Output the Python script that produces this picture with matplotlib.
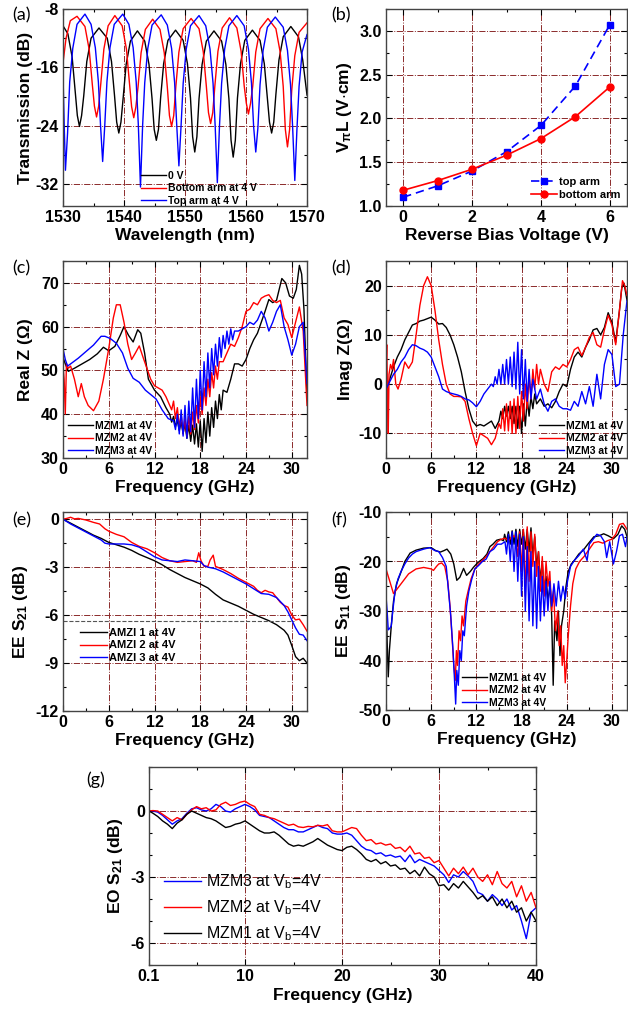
import numpy as np
import matplotlib
matplotlib.use("Agg")
import matplotlib.pyplot as plt
from matplotlib.ticker import MultipleLocator

# ---------------- (a) transmission spectra ----------------
wl_0v = [1530.0, 1530.8, 1531.5, 1532.0, 1532.35, 1532.7, 1533.05, 1533.4, 1533.9, 1534.6, 1535.9,
         1537.25, 1537.95, 1538.45, 1538.8, 1539.15, 1539.5, 1539.85, 1540.35, 1541.05, 1542.2,
         1543.4, 1544.1, 1544.6, 1544.95, 1545.3, 1545.65, 1546.0, 1546.5, 1547.2, 1548.45,
         1549.7, 1550.4, 1550.9, 1551.25, 1551.6, 1551.95, 1552.3, 1552.8, 1553.5, 1554.75,
         1556.0, 1556.7, 1557.2, 1557.55, 1557.9, 1558.25, 1558.6, 1559.1, 1559.8, 1561.05,
         1562.3, 1563.0, 1563.5, 1563.85, 1564.2, 1564.55, 1564.9, 1565.4, 1566.1, 1567.35,
         1568.6, 1569.3, 1570.0]
tr_0v = [-10.3, -11.4, -14.6, -19.3, -22.6, -24.1, -22.6, -19.9, -15.2, -12.0, -10.6,
         -12.0, -15.2, -19.9, -23.5, -25.0, -23.5, -20.3, -15.6, -12.4, -11.0,
         -12.4, -15.6, -20.3, -24.5, -26.0, -24.5, -20.2, -15.5, -12.3, -10.9,
         -12.3, -15.5, -20.2, -25.5, -27.6, -25.5, -20.3, -15.6, -12.4, -11.0,
         -12.4, -15.6, -20.3, -26.0, -28.3, -26.0, -20.2, -15.5, -12.3, -10.9,
         -12.3, -15.5, -20.2, -23.5, -25.0, -23.5, -19.7, -15.0, -11.8, -10.4,
         -11.8, -15.0, -19.8]

wl_bot = [1530.0, 1530.5, 1531.2, 1532.3,
          1533.6, 1534.3, 1534.8, 1535.15, 1535.5, 1535.85, 1536.2, 1536.7, 1537.4, 1538.5,
          1539.7, 1540.4, 1540.9, 1541.25, 1541.6, 1541.95, 1542.3, 1542.8, 1543.5, 1544.7,
          1545.9, 1546.6, 1547.1, 1547.45, 1547.8, 1548.15, 1548.5, 1549.0, 1549.7, 1551.0,
          1552.3, 1553.0, 1553.5, 1553.85, 1554.2, 1554.55, 1554.9, 1555.4, 1556.1, 1557.3,
          1558.5, 1559.2, 1559.7, 1560.05, 1560.4, 1560.75, 1561.1, 1561.6, 1562.3, 1563.6,
          1564.9, 1565.6, 1566.1, 1566.45, 1566.8, 1567.15, 1567.5, 1568.0, 1568.7, 1570.0]
tr_bot = [-15.4, -12.0, -9.6, -9.0,
          -10.4, -13.6, -18.3, -21.3, -22.8, -21.3, -18.2, -13.5, -10.3, -8.9,
          -10.3, -13.5, -18.2, -21.4, -22.9, -21.4, -18.7, -14.0, -10.8, -9.4,
          -10.8, -14.0, -18.7, -22.6, -24.1, -22.6, -18.6, -13.9, -10.7, -9.3,
          -10.7, -13.9, -18.6, -22.2, -23.7, -22.2, -18.5, -13.8, -10.6, -9.2,
          -10.6, -13.8, -18.5, -20.9, -22.4, -20.9, -18.6, -13.9, -10.7, -9.3,
          -10.7, -13.9, -18.6, -24.5, -26.9, -24.5, -19.1, -14.4, -11.2, -9.9]

wl_top = [1530.0, 1530.2, 1530.4, 1530.75, 1531.1, 1531.6, 1532.3, 1533.6,
          1534.6, 1535.3, 1535.8, 1536.15, 1536.5, 1536.85, 1537.2, 1537.7, 1538.4, 1539.8,
          1540.8, 1541.5, 1542.0, 1542.35, 1542.7, 1543.05, 1543.4, 1543.9, 1544.6, 1546.1,
          1547.1, 1547.8, 1548.3, 1548.65, 1549.0, 1549.35, 1549.7, 1550.2, 1550.9, 1552.3,
          1553.4, 1554.1, 1554.6, 1554.95, 1555.3, 1555.65, 1556.0, 1556.5, 1557.2, 1558.5,
          1559.7, 1560.4, 1560.9, 1561.25, 1561.6, 1561.95, 1562.3, 1562.8, 1563.5, 1564.8,
          1566.1, 1566.8, 1567.3, 1567.65, 1568.0, 1568.35, 1568.7, 1569.2, 1570.0]
tr_top = [-17.0, -24.0, -30.1, -25.0, -18.0, -13.4, -10.1, -8.7,
          -10.1, -13.3, -18.0, -23.9, -28.9, -23.9, -18.0, -13.3, -10.1, -8.7,
          -10.1, -13.3, -18.0, -23.9, -32.4, -24.0, -18.1, -13.4, -10.2, -8.8,
          -10.2, -13.4, -18.1, -24.0, -29.5, -24.1, -18.2, -13.5, -10.3, -8.9,
          -10.3, -13.5, -18.2, -24.1, -31.8, -24.1, -18.2, -13.5, -10.3, -8.9,
          -10.3, -13.5, -18.2, -24.1, -27.6, -24.3, -18.4, -13.7, -10.5, -9.1,
          -10.5, -13.7, -18.4, -24.3, -31.5, -24.5, -18.6, -13.9, -11.5]

# ---------------- (b) VpiL ----------------
bias = [0, 1, 2, 3, 4, 5, 6]
vpil_top = [1.10, 1.23, 1.40, 1.62, 1.92, 2.37, 3.07]
vpil_bot = [1.18, 1.29, 1.42, 1.58, 1.77, 2.02, 2.36]

# ---------------- (c) Real Z ----------------
rz1_f = [0, 0.3, 0.7, 1.5, 2.5, 3.5, 4.5, 5.3, 6.0, 6.8, 7.5, 8.0, 8.6, 9.2, 9.8, 10.2, 10.7, 11.2,
         12.0, 12.8, 13.5, 14.0,
         14.25, 14.5, 14.75, 15.0, 15.25, 15.5, 15.75, 16.0, 16.25, 16.5, 16.75, 17.0, 17.25, 17.5,
         17.75, 18.0, 18.25, 18.5, 18.75, 19.0, 19.25, 19.5, 19.75, 20.0, 20.25, 20.5, 20.75, 21.0,
         21.5, 22.0, 22.5, 23.0, 23.5, 24.0, 24.5, 25.0, 25.5, 26.0, 26.5, 27.0, 27.5, 28.0, 28.7,
         29.2, 29.7, 30.2, 30.6, 31.0, 31.3, 31.6, 32.0]
rz1 = [53, 51.5, 49.8, 50.5, 51.5, 52.5, 53.8, 55.3, 54.5, 55.5, 58, 60, 58, 56.5, 59.3, 58.5, 54, 48,
       45.5, 44, 41.5, 40,
       38.2, 39.5, 37.2, 38.6, 36.3, 38.2, 35.6, 37.8, 34.5, 37.5, 33.8, 37.5, 33.2, 37.8,
       32.5, 38.5, 31.5, 39.0, 33.5, 40.5, 35.0, 41.5, 37.0, 43.0, 39.0, 44.5, 41.0, 45.5,
       45, 48, 51.5, 51.5, 51, 52.5, 55, 57, 58.5, 61, 63.5, 66.2, 65.5, 66, 71,
       70, 67, 66.5, 68.5, 74, 72, 64, 44]
rz2_f = [0, 0.15, 0.3, 0.45, 0.7, 1.0, 1.5, 2.0, 2.4, 2.8, 3.3, 4.0, 4.7, 5.3, 6.0, 6.6, 7.0, 7.5, 8.0,
         8.5, 9.0, 9.5, 10.0, 10.5, 11.0, 11.5, 12.0, 12.5, 13.0, 13.5, 14.0,
         14.25, 14.5, 14.75, 15.0, 15.25, 15.5, 15.75, 16.0, 16.25, 16.5, 16.75, 17.0, 17.25, 17.5,
         17.75, 18.0, 18.25, 18.5, 18.75, 19.0, 19.25, 19.5, 19.75, 20.0, 20.25, 20.5,
         21.0, 21.5, 22.0, 22.5, 23.0, 23.5, 24.0, 24.5, 25.0, 25.5, 26.0, 26.5, 27.0, 27.5, 28.0,
         28.5, 29.0, 29.5, 30.0, 30.5, 31.0, 31.5, 32.0]
rz2 = [51, 48, 40, 51.5, 50.5, 51, 48, 44, 47, 44, 42, 40.8, 43, 48, 55, 62, 65, 65, 61,
       56, 52.5, 54, 55.6, 53, 50.5, 48, 46.5, 46, 45.5, 44, 42,
       41, 43, 39, 41.5, 37, 40, 35.5, 39, 35, 39.5, 35.5, 40.5, 36.5, 42,
       38, 44, 40, 46, 42, 48, 44, 49.5, 46, 51, 48, 52,
       52, 54, 56, 55.5, 57.5, 60, 63.5, 64, 65.5, 65, 66.5, 67, 67.3, 66, 65.5,
       66, 62, 60.5, 57.5, 61, 64.5, 59, 42]
rz3_f = [0, 0.3, 0.6, 1.0, 2.0, 3.0, 4.0, 5.0, 5.5, 6.2, 7.0, 7.8, 8.5, 9.2, 10.0, 10.8, 11.5, 12.2,
         13.0, 13.8, 14.5,
         14.75, 15.0, 15.25, 15.5, 15.75, 16.0, 16.25, 16.5, 16.75, 17.0, 17.25, 17.5, 17.75, 18.0,
         18.25, 18.5, 18.75, 19.0, 19.25, 19.5, 19.75, 20.0, 20.25, 20.5, 20.75, 21.0, 21.25, 21.5,
         21.75, 22.0, 22.25, 22.5,
         23.0, 23.5, 24.0, 24.5, 25.0, 25.5, 26.0, 26.5, 27.0, 27.5, 28.0, 28.5, 29.0, 29.5, 30.0,
         30.5, 31.0, 31.5, 32.0]
rz3 = [55, 52.5, 51, 51.5, 52.8, 54.3, 55.8, 57.8, 57.8, 57.3, 56.2, 54, 50.5, 48.2, 47.3, 45.5, 44.5, 43.5,
       41, 39, 38.5,
       36.5, 40, 35.5, 41, 35, 42, 34.5, 43, 36, 46, 37, 48, 39, 50,
       41, 52, 44, 54, 46, 55, 49, 56, 51, 57.5, 53, 58, 55, 59,
       56, 59.5, 57, 59,
       59, 59.5, 60, 61, 60.5, 61.5, 63.5, 62, 59, 61, 63.5, 65, 60, 57, 53.5,
       56, 60, 61, 47]

# ---------------- (d) Imag Z ----------------
iz1_f = [0, 0.5, 1, 1.5, 2, 2.5, 3, 3.5, 4, 4.5, 5, 5.5, 6, 6.5, 7, 7.5, 8, 8.5, 9, 9.5, 10, 10.5,
         11, 11.5, 12, 12.5, 13, 13.5, 14, 14.5, 15,
         15.25, 15.5, 15.75, 16.0, 16.25, 16.5, 16.75, 17.0, 17.25, 17.5, 17.75, 18.0, 18.25, 18.5,
         18.75, 19.0, 19.25, 19.5, 19.75, 20.0,
         20.5, 21, 21.5, 22, 22.5, 23, 23.5, 24, 24.5, 25, 25.5, 26, 26.5, 27, 27.5, 28, 28.5, 29,
         29.5, 30, 30.5, 31, 31.3, 31.6, 32]
iz1 = [-1, 1, 3.5, 5.5, 7, 9, 10.5, 12, 12.3, 12.8, 13, 13.3, 13.6, 13, 12.2, 12.3, 11.5, 10, 8, 5.5, 2.5, -1.5,
       -5, -7.5, -8.5, -8.2, -8.5, -8, -7.5, -9, -7.5,
       -5.5, -7, -4.5, -6.5, -4.5, -7, -4.5, -8, -4.5, -9, -4.5, -10, -4, -8.5,
       -3, -6.5, -2.5, -5, -2, -4,
       -3, -4.5, -4, -4.8, -3.5, -1.5, 0, -0.5, 3, 5.5, 6.5, 5.5, 7.5, 9, 11, 11.3, 10, 11.5,
       14.5, 12.5, 8.5, 15, 19.5, 20.5, 17]
iz2_f = [0, 0.1, 0.2, 0.3, 0.4, 0.6, 0.8, 1.0, 1.3, 1.6, 2.0, 2.5, 3.0, 3.5, 4.0, 4.5, 5.0, 5.5, 6.0,
         6.5, 7.0, 7.5, 8.0, 8.5, 9.0, 9.5, 10.0, 10.5, 11.0, 11.5, 12.0, 12.5, 13.0, 13.5, 14.0,
         14.5, 15.0,
         15.25, 15.5, 15.75, 16.0, 16.25, 16.5, 16.75, 17.0, 17.25, 17.5, 17.75, 18.0, 18.25, 18.5,
         18.75, 19.0, 19.25, 19.5, 19.75, 20.0, 20.25, 20.5,
         21, 21.5, 22, 22.5, 23, 23.5, 24, 24.5, 25, 25.5, 26, 26.5, 27, 27.5, 28, 28.5, 29, 29.5,
         30, 30.5, 31, 31.4, 31.7, 32]
iz2 = [3, 8, -2, -10, 2, 4, 3, 5, 0, -1, 1, 4.5, 3.2, 4.5, 10, 16, 20, 21.8, 20,
       15, 9, 4, 0, -2, -2.5, -2.5, -2.6, -3.5, -7, -10, -12.5, -10, -10.5, -11, -12.3,
       -11, -8,
       -9, -5, -9.5, -4, -9.5, -3.5, -10, -3, -10, -2.5, -9, -1.5, -7.5, 0,
       -5, 1.5, -3, 3, -1, 4, 0, 3,
       0, -1.5, 2.5, 3.5, 3, 4, 3.5, 5, 7, 7.5, 5.8, 7.5, 9.5, 10.5, 8, 7.5, 11, 14,
       12, 8, 15, 21, 20, 18]
iz3_f = [0, 0.5, 1, 1.5, 2, 2.5, 3, 3.5, 4, 4.5, 5, 5.5, 6, 6.5, 7, 7.5, 8, 8.5, 9, 9.5, 10, 10.5,
         11, 11.5, 12, 12.5, 13, 13.5, 14,
         14.25, 14.5, 14.75, 15.0, 15.25, 15.5, 15.75, 16.0, 16.25, 16.5, 16.75, 17.0, 17.25, 17.5,
         17.75, 18.0, 18.25, 18.5, 18.75, 19.0, 19.25, 19.5,
         20, 20.5, 21, 21.5, 22, 22.5, 23, 23.5, 24, 24.5, 25, 25.5, 26, 26.5, 27, 27.5, 28, 28.5,
         29, 29.5, 30, 30.5, 31, 31.5, 32]
iz3 = [-1, 0.5, 2, 3, 4.5, 5.5, 7, 8, 7.8, 7.3, 7, 6.5, 5.5, 3.5, 1.5, -1, -1.5, -1.8, -2, -2.2, -2.5, -3,
       -3.2, -3.8, -4.6, -3.5, -2, -1, 0,
       -0.5, 1.5, 0, 3, 0, 4, 0, 5, 0, 5.5, -0.5, 6.5, -1, 8.5,
       -2, 7, -3, 5, -3.5, 3, -3, 1,
       -3, -1, -4, -5.5, -3.5, -3, -4.5, -5, -5, -5.3, -3.5, -4.5, -1.5, -4, -0.5, -4.5, 2, -3,
       4, 7, 6, -0.5, 0, 10, 17]

# ---------------- (e) EE S21 ----------------
s21_1_f = [0, 1, 2, 3, 4, 5, 6, 7, 8, 9, 10, 11, 12, 13, 14, 15, 16, 17, 18, 19, 20, 21, 22, 23, 24,
           25, 26, 27, 28, 29, 29.5, 30, 30.5, 31, 31.5, 32]
s21_1 = [0, -0.25, -0.5, -0.75, -1.0, -1.2, -1.45, -1.6, -1.75, -1.95, -2.2, -2.4, -2.6, -2.85, -3.15,
         -3.4, -3.65, -3.85, -4.05, -4.3, -4.7, -5.05, -5.25, -5.45, -5.7, -5.95, -6.15, -6.35, -6.6,
         -6.95, -7.25, -7.9, -8.6, -8.85, -8.7, -9.0]
s21_2_f = [0, 0.5, 1, 1.5, 2, 3, 4, 4.8, 5.5, 6, 7, 8, 9, 10, 11, 12, 13, 14, 15, 16, 17, 17.5, 17.8,
           18.1, 18.5, 19.0, 19.3, 19.7, 20.0, 20.5, 21, 22, 23, 24, 25, 25.5, 26, 26.5, 27, 27.5, 28,
           28.5, 29, 29.5, 30, 30.5, 31, 31.5, 32]
s21_2 = [0, 0.05, 0.12, 0.02, 0.05, -0.05, -0.2, -0.3, -0.6, -0.75, -0.95, -1.1, -1.45, -1.7, -1.85,
         -2.1, -2.4, -2.6, -2.7, -2.65, -2.6, -2.7, -2.1, -2.6, -2.95, -2.95, -2.55, -2.25, -2.95,
         -3.05, -3.15, -3.4, -3.7, -3.95, -4.2, -4.45, -4.6, -4.45, -4.55, -4.6, -4.9, -5.2, -5.4,
         -5.5, -6.0, -6.3, -6.25, -6.6, -7.0]
s21_3_f = [0, 1, 2, 3, 4, 5, 5.5, 6, 7, 8, 9, 10, 11, 12, 13, 14, 15, 16, 17, 18, 18.5, 19, 20, 21,
           22, 23, 24, 25, 26, 27, 28, 29, 29.5, 30, 30.5, 31, 31.5, 32]
s21_3 = [0, -0.3, -0.55, -0.8, -1.05, -1.3, -1.5, -1.55, -1.55, -1.55, -1.6, -1.75, -2.05, -2.35,
         -2.55, -2.6, -2.65, -2.55, -2.6, -2.65, -2.9, -3.0, -3.1, -3.3, -3.55, -3.8, -4.05, -4.35,
         -4.65, -4.7, -4.9, -5.4, -5.8, -6.3, -6.8, -7.2, -7.25, -7.6]
s21_ref = -6.35

# ---------------- (f) EE S11 ----------------
s11_1_f = [0, 0.15, 0.3, 0.45, 0.7, 1.0, 1.4, 1.9, 2.5, 3.2, 4, 5, 6, 6.6, 7.2, 7.7, 8.1, 8.6, 9.0, 9.4,
           9.8, 10.3, 10.7, 11.2, 11.6, 12.2, 12.9, 13.4, 13.8, 14.2, 14.7, 15.2, 15.6,
           15.75, 16.0, 16.25, 16.5, 16.75, 17.0, 17.25, 17.5, 17.75, 18.0, 18.25, 18.5, 18.75, 19.0,
           19.25, 19.5, 19.75, 20.0, 20.25, 20.5, 20.75, 21.0, 21.25,
           21.5, 21.8, 22.0, 22.2, 22.4, 22.7, 22.9, 23.1, 23.3, 23.6, 23.9, 24.2, 24.6, 25.0, 25.6,
           26.2, 26.8, 27.6, 28.3, 28.9, 29.5, 30.2, 30.8, 31.3, 31.7, 32]
s11_1 = [-27, -36, -43.3, -38, -33, -28, -24.5, -22.5, -20, -18.3, -17.7, -17.3, -17.2, -17.8, -18.1,
         -17.8, -17.5, -18.5, -20.5, -23.8, -23.2, -21.4, -22.8, -22, -21.2, -20.2, -19.4, -18.5, -17,
         -16.5, -15.7, -15.5, -15.8,
         -14.5, -16, -14, -16.5, -13.8, -16.5, -13.5, -17, -13.5, -16.5, -14, -17.5, -13.5, -18,
         -13.2, -19, -15, -21, -18, -24, -20, -26, -23,
         -28, -25, -31, -45, -32, -36, -30, -39, -33, -30, -25, -22, -20.5, -19.8, -18.5,
         -17.7, -16.5, -15, -14.8, -14.4, -14.8, -15.4, -14.5, -12.8, -13.5, -15]
s11_2_f = [0, 0.5, 1.0, 1.5, 2.0, 2.5, 3.0, 3.5, 4.0, 5.0, 6.0, 6.3, 6.7, 7.0, 7.4, 7.8, 8.2, 8.5, 8.8,
           9.0, 9.2, 9.35, 9.5, 9.7, 9.9, 10.1, 10.3, 10.6, 10.9, 11.3, 11.8, 12.3, 12.8, 13.3, 13.8,
           14.3, 14.8, 15.3, 15.8, 16.3, 16.8, 17.2,
           17.5, 17.75, 18.0, 18.25, 18.5, 18.75, 19.0, 19.25, 19.5, 19.75, 20.0, 20.25, 20.5, 20.75,
           21.0, 21.25, 21.5, 21.75, 22.0, 22.25,
           22.5, 22.8, 23.0, 23.2, 23.4, 23.6, 23.8, 24.0, 24.2, 24.5, 24.8, 25.2, 25.7, 26.3, 27,
           27.6, 28.2, 28.8, 29.4, 30, 30.5, 31, 31.5, 32]
s11_2 = [-21.5, -24, -26.5, -25.5, -24.5, -23.5, -22.5, -22, -21.5, -21.2, -21.5, -21.8, -21, -20.5,
         -20.3, -21, -24, -29, -36, -41, -44, -38, -41, -34, -36, -31, -33, -28, -26, -23.5, -21.5,
         -20.5, -19.8, -19, -18, -17, -16, -15.5, -15.3, -15.8, -14.8, -15,
         -19, -14, -22, -13.5, -27, -13, -24, -14, -21, -14.5, -23, -18, -26, -19,
         -27, -20, -25, -22, -30, -26,
         -34, -30, -37, -33, -41, -37, -44.5, -40, -35, -29, -24.5, -21.5, -20, -19, -17.5,
         -16.2, -16, -16.3, -15.8, -15.5, -14.5, -12.5, -12.3, -13.5]
s11_3_f = [0, 0.15, 0.3, 0.5, 0.7, 0.9, 1.2, 1.6, 2.0, 2.5, 3.0, 3.5, 4.0, 5.0, 5.8, 6.5, 7.0, 7.5,
           8.0, 8.3, 8.6, 8.9, 9.1, 9.25, 9.4, 9.6, 9.8, 10.0, 10.2, 10.4, 10.7, 11.0, 11.4, 11.8,
           12.3, 12.8, 13.3, 13.8, 14.3, 14.8, 15.3, 15.8,
           16.0, 16.25, 16.5, 16.75, 17.0, 17.25, 17.5, 17.75, 18.0, 18.25, 18.5, 18.75, 19.0, 19.25,
           19.5, 19.75, 20.0, 20.25, 20.5, 20.75, 21.0, 21.25, 21.5, 21.75, 22.0,
           22.3, 22.6, 22.9, 23.2, 23.5, 23.8, 24.1, 24.5, 25, 25.6, 26.2, 26.7, 27.0, 27.5, 28.0,
           28.5, 29.0, 29.3, 29.7, 30.2, 30.6, 31.0, 31.4, 31.8, 32]
s11_3 = [-27, -30, -33.8, -33.5, -33, -30, -26, -23.5, -22, -20.5, -19.3, -18.5, -18, -17.5, -17.2,
         -17.8, -18, -19.2, -21, -26, -31, -38, -44, -48.8, -42, -45, -38, -40, -34, -35, -29, -26,
         -23.5, -21.5, -20.8, -20, -19.5, -18, -17.5, -16.5, -16.5, -16,
         -18.5, -14.5, -20, -14, -22, -14, -24, -14.5, -27, -15, -30, -17, -32, -18,
         -33, -20, -33.5, -21, -32, -23, -31, -24, -30, -24, -29,
         -24.5, -29, -24, -28, -25, -27.5, -24, -21, -19.8, -18.8, -17.5, -19.8, -16.5, -15.5, -14.5,
         -14.8, -16, -19.2, -16, -20.5, -18, -14.8, -14.5, -17, -15]

# ---------------- (g) EO S21 ----------------
eo_f = np.r_[0.1, np.arange(0.5, 40.01, 0.5)]
eo_mzm3 = [0.0, 0.0, -0.05, -0.2, -0.4, -0.6, -0.45, -0.35, -0.1, 0.1,
           0.15, 0.05, 0.0, 0.1, 0.3, 0.2, 0.0, -0.05, 0.1, 0.2,
           0.3, 0.2, 0.05, -0.2, -0.25, -0.3, -0.45, -0.6, -0.75, -0.85,
           -0.85, -0.95, -0.95, -0.85, -0.75, -0.65, -0.75, -0.8, -1.0, -1.05,
           -1.05, -1.0, -1.1, -1.35, -1.6, -1.75, -1.8, -1.95, -1.9, -2.05,
           -2.0, -2.1, -2.05, -2.3, -2.0, -2.35, -2.2, -2.3, -2.4, -2.5,
           -2.7, -2.9, -3.25, -2.9, -3.0, -2.75, -2.95, -3.2, -3.7, -3.8,
           -4.1, -3.8, -4.0, -4.3, -4.0, -4.5, -4.3, -5.0, -5.8, -4.6, -4.4]
eo_mzm2 = [0.0, 0.02, 0.0, -0.15, -0.3, -0.45, -0.3, -0.4, -0.15, 0.05,
           0.2, 0.1, 0.15, 0.0, 0.05, 0.3, 0.4, 0.25, 0.3, 0.4,
           0.45, 0.3, 0.2, -0.15, -0.2, -0.3, -0.35, -0.45, -0.55, -0.65,
           -0.6, -0.72, -0.75, -0.7, -0.72, -0.65, -0.68, -0.62, -0.9, -0.95,
           -0.95, -0.85, -0.75, -0.8, -1.1, -1.35, -1.3, -1.5, -1.45, -1.55,
           -1.5, -1.7, -1.65, -1.85, -1.6, -1.95, -1.9, -2.15, -2.1, -2.35,
           -2.25, -2.6, -2.95, -2.6, -2.85, -2.55, -2.9, -2.6, -3.0, -3.2,
           -2.9, -3.35, -2.75, -3.3, -3.5, -3.2, -3.9, -3.4, -4.1, -3.7, -4.4]
eo_mzm1 = [0.0, -0.1, -0.25, -0.45, -0.6, -0.8, -0.55, -0.4, -0.15, 0.0,
           -0.1, -0.2, -0.3, -0.35, -0.45, -0.6, -0.75, -0.7, -0.6, -0.55,
           -0.45, -0.6, -0.75, -0.9, -1.0, -1.0, -0.95, -1.1, -1.3, -1.5,
           -1.6, -1.55, -1.6, -1.5, -1.4, -1.25, -1.4, -1.55, -1.65, -1.75,
           -1.8, -1.65, -1.6, -1.75, -1.95, -2.2, -2.3, -2.2, -2.4, -2.3,
           -2.5, -2.45, -2.65, -2.6, -2.85, -2.7, -2.95, -2.55, -2.85, -3.0,
           -3.4, -3.35, -3.6, -3.3, -3.5, -3.2, -3.45, -3.7, -4.0, -3.85,
           -4.1, -3.9, -4.3, -4.0, -4.4, -4.1, -4.6, -4.4, -5.0, -4.6, -5.0]

# ---------------- style ----------------
plt.rcParams["font.family"] = ["Liberation Sans", "DejaVu Sans"]
plt.rcParams["font.weight"] = "bold"
plt.rcParams["axes.labelweight"] = "bold"
plt.rcParams["axes.labelsize"] = 12.5
plt.rcParams["xtick.labelsize"] = 11.5
plt.rcParams["ytick.labelsize"] = 11.5
plt.rcParams["axes.unicode_minus"] = False
plt.rcParams["mathtext.fontset"] = "custom"
plt.rcParams["mathtext.rm"] = "Liberation Sans:bold"
plt.rcParams["mathtext.it"] = "Liberation Sans:bold"
plt.rcParams["mathtext.bf"] = "Liberation Sans:bold"
plt.rcParams["mathtext.default"] = "rm"
plt.rcParams["lines.linewidth"] = 1.0

GRID = "#8b2a2a"
W, H = 628, 1013

fig = plt.figure(figsize=(W / 100, H / 100), dpi=100)


def box(l, t, r, b):
    return fig.add_axes([l / W, 1 - b / H, (r - l) / W, (b - t) / H])


def style(ax, xmaj, xmin, ymaj, ymin):
    ax.xaxis.set_major_locator(MultipleLocator(xmaj))
    ax.xaxis.set_minor_locator(MultipleLocator(xmin))
    ax.yaxis.set_major_locator(MultipleLocator(ymaj))
    ax.yaxis.set_minor_locator(MultipleLocator(ymin))
    ax.tick_params(which="both", direction="in", top=True, right=True, width=0.8)
    ax.tick_params(which="major", length=4, pad=3)
    ax.tick_params(which="minor", length=2.5)
    ax.grid(True, which="major", color=GRID, ls="-.", lw=0.7)
    for s in ax.spines.values():
        s.set_color("#444444")
        s.set_linewidth(1.0)


def panel_label(txt, x, y):
    fig.text(x / W, 1 - y / H, txt, fontsize=13, fontweight="normal",
             family=["Lato", "DejaVu Sans"], va="center", ha="left")


small_leg = dict(frameon=False, fontsize=7.5, handlelength=2.4, handletextpad=0.2,
                 labelspacing=0.25, borderpad=0, borderaxespad=0)

# (a)
ax = box(63, 9, 307, 206)
ax.plot(wl_0v, tr_0v, color="k", label="0 V")
ax.plot(wl_bot, tr_bot, color="red", label="Bottom arm at 4 V")
ax.plot(wl_top, tr_top, color="blue", label="Top arm at 4 V")
ax.set_xlim(1530, 1570)
ax.set_ylim(-35, -8)
style(ax, 10, 5, 8, 4)
ax.set_yticks([-32, -24, -16, -8])
ax.set_xlabel("Wavelength (nm)", labelpad=2)
ax.set_ylabel("Transmission (dB)", labelpad=2)
ax.legend(loc="lower left", bbox_to_anchor=(0.32, 0.0), **small_leg)
panel_label("(a)", 12, 15)

# (b)
ax = box(386, 9, 627, 206)
ax.plot(bias, vpil_top, color="blue", ls=(0, (5, 3)), marker="s", ms=4.5, lw=1.2, label="top arm")
ax.plot(bias, vpil_bot, color="red", marker="o", ms=5, lw=1.2, label="bottom arm")
ax.set_xlim(-0.5, 6.5)
ax.set_ylim(1.0, 3.25)
style(ax, 2, 1, 0.5, 0.25)
ax.set_xlabel("Reverse Bias Voltage (V)", labelpad=2)
ax.set_ylabel(r"V$_{\pi}$L (V$\cdot$cm)", labelpad=4)
leg_b = dict(small_leg)
leg_b["fontsize"] = 8
ax.legend(loc="lower left", bbox_to_anchor=(0.6, 0.03), **leg_b)
panel_label("(b)", 331, 15)

# (c)
ax = box(63, 261, 307, 458)
ax.plot(rz1_f, rz1, color="k", label="MZM1 at 4V")
ax.plot(rz2_f, rz2, color="red", label="MZM2 at 4V")
ax.plot(rz3_f, rz3, color="blue", label="MZM3 at 4V")
ax.set_xlim(0, 32)
ax.set_ylim(30, 75)
style(ax, 6, 3, 10, 5)
ax.set_xlabel("Frequency (GHz)", labelpad=2)
ax.set_ylabel("Real Z (Ω)", labelpad=6)
ax.legend(loc="lower left", bbox_to_anchor=(0.02, 0.01), **small_leg)
panel_label("(c)", 12, 268)

# (d)
ax = box(386, 261, 627, 458)
ax.plot(iz1_f, iz1, color="k", label="MZM1 at 4V")
ax.plot(iz2_f, iz2, color="red", label="MZM2 at 4V")
ax.plot(iz3_f, iz3, color="blue", label="MZM3 at 4V")
ax.set_xlim(0, 32)
ax.set_ylim(-15, 25)
style(ax, 6, 3, 10, 5)
ax.set_xlabel("Frequency (GHz)", labelpad=2)
ax.set_ylabel("Imag Z(Ω)", labelpad=4)
ax.legend(loc="lower left", bbox_to_anchor=(0.635, 0.01), **small_leg)
panel_label("(d)", 331, 268)

# (e)
ax = box(63, 512, 307, 711)
ax.plot(s21_1_f, s21_1, color="k", label="AMZI 1 at 4V")
ax.plot(s21_2_f, s21_2, color="red", label="AMZI 2 at 4V")
ax.plot(s21_3_f, s21_3, color="blue", label="AMZI 3 at 4V")
ax.hlines(s21_ref, 0, 30.3, colors="#555555", linestyles="--", lw=0.8)
ax.set_xlim(0, 32)
ax.set_ylim(-12, 0.45)
style(ax, 6, 3, 3, 1.5)
ax.set_xlabel("Frequency (GHz)", labelpad=2)
ax.set_ylabel(r"EE S$_{21}$ (dB)", labelpad=4)
leg_e = dict(small_leg)
leg_e["fontsize"] = 8
ax.legend(loc="lower left", bbox_to_anchor=(0.07, 0.24), **leg_e)
panel_label("(e)", 12, 520)

# (f)
ax = box(386, 512, 627, 710)
ax.plot(s11_1_f, s11_1, color="k", label="MZM1 at 4V")
ax.plot(s11_2_f, s11_2, color="red", label="MZM2 at 4V")
ax.plot(s11_3_f, s11_3, color="blue", label="MZM3 at 4V")
ax.set_xlim(0, 32)
ax.set_ylim(-50, -10)
style(ax, 6, 3, 10, 5)
ax.set_xlabel("Frequency (GHz)", labelpad=2)
ax.set_ylabel(r"EE S$_{11}$ (dB)", labelpad=4)
ax.legend(loc="lower left", bbox_to_anchor=(0.315, 0.01), **small_leg)
panel_label("(f)", 331, 520)

# (g)
ax = box(149, 767, 536, 965)
ax.plot(eo_f, eo_mzm3, color="blue", label=r"MZM3 at V$_{\mathregular{b}}$=4V")
ax.plot(eo_f, eo_mzm2, color="red", label=r"MZM2 at V$_{\mathregular{b}}$=4V")
ax.plot(eo_f, eo_mzm1, color="k", label=r"MZM1 at V$_{\mathregular{b}}$=4V")
ax.set_xlim(0.1, 40)
ax.set_ylim(-7, 2)
style(ax, 10, 5, 3, 1)
ax.set_xticks([0.1, 10, 20, 30, 40])
ax.set_xticklabels(["0.1", "10", "20", "30", "40"])
ax.set_xlabel("Frequency (GHz)", labelpad=3)
ax.set_ylabel(r"EO S$_{21}$ (dB)", labelpad=4)
ax.legend(loc="lower left", bbox_to_anchor=(0.04, 0.11), frameon=False,
          handlelength=2.3, handletextpad=0.3, labelspacing=0.45, borderpad=0,
          borderaxespad=0, prop={"size": 11.5, "weight": "normal"})
panel_label("(g)", 86, 780)

fig.savefig("out.png", dpi=100)
